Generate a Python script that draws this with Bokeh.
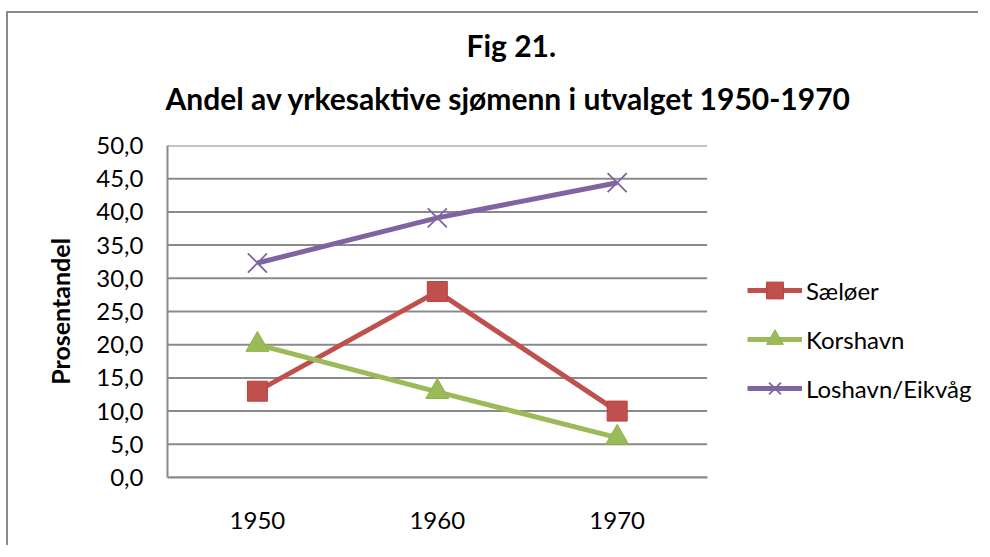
from bokeh.plotting import figure
from bokeh.models import Legend, LegendItem, Range1d, FixedTicker, Title
from bokeh.embed import file_html
from bokeh.resources import INLINE

# ---- data ----
years = [1950, 1960, 1970]
saeloer = [13.0, 28.0, 10.0]
korshavn = [20.0, 12.9, 6.0]
loshavn = [32.3, 39.1, 44.4]
series_names = ["Sæløer", "Korshavn", "Loshavn/Eikvåg"]
y_ticks = [0, 5, 10, 15, 20, 25, 30, 35, 40, 45, 50]
title_lines = ["Fig 21.", "Andel av yrkesaktive sjømenn i utvalget 1950-1970"]
y_label = "Prosentandel"

# category band: each year occupies a 10-year wide slot
X_LO, X_HI = years[0] - 5, years[-1] + 5
X_VIEW_END = 1990.2     # extra room on the right of the plot area for the legend

FONT = "Lato"
GRID = "#8a8a8a"

p = figure(
    x_range=Range1d(X_LO, X_VIEW_END),
    y_range=Range1d(0, 50),
    width=972, height=534,
    output_backend="svg", toolbar_location=None,
    min_border_left=159, min_border_right=0,
    min_border_top=132, min_border_bottom=70,
)
p.styles = {"position": "relative", "top": "11px", "left": "6px",
            "border-top": "2px solid #8a8a8a",
            "border-left": "2px solid #8a8a8a"}
p.outline_line_color = None
p.background_fill_color = "white"
p.border_fill_color = "white"

# axes
for ax in (p.xaxis[0], p.yaxis[0]):
    ax.axis_line_color = GRID
    ax.axis_line_width = 2
    ax.major_tick_out = 0
    ax.major_tick_in = 0
    ax.minor_tick_out = 0
    ax.minor_tick_in = 0
    ax.major_label_text_font = FONT
    ax.major_label_text_font_size = "24px"
    ax.major_label_text_color = "black"

p.xaxis.bounds = (X_LO, X_HI)
p.xaxis.ticker = FixedTicker(ticks=years)
p.xaxis.major_label_standoff = 34

p.yaxis.ticker = FixedTicker(ticks=y_ticks)
p.yaxis.major_label_overrides = {t: f"{t:.1f}".replace(".", ",") for t in y_ticks}
p.yaxis.major_label_standoff = 24
p.yaxis.axis_label = y_label
p.yaxis.axis_label_text_font = FONT
p.yaxis.axis_label_text_font_size = "25px"
p.yaxis.axis_label_text_font_style = "bold"
p.yaxis.axis_label_text_color = "black"
p.yaxis.axis_label_standoff = 18

# horizontal gridlines limited to the plot area
p.xgrid.visible = False
p.ygrid.visible = False
n = len(y_ticks)
p.segment(x0=[X_LO] * n, x1=[X_HI] * n, y0=y_ticks, y1=y_ticks,
          line_color=GRID, line_width=2, level="underlay")

# series
colors = ["#C0504D", "#9BBB59", "#8064A2"]
edge = ["#B8403D", "#8FB04B", "#8064A2"]
markers = ["square", "triangle", "x"]
sizes = [20, 23, 27]
values = [saeloer, korshavn, loshavn]
items = []
for name, vals, c, e, m, s in zip(series_names, values, colors, edge, markers, sizes):
    lr = p.line(years, vals, line_width=5, line_color=c)
    if m == "x":
        sr = p.scatter(years, vals, marker=m, size=s, line_color=c, line_width=1.8)
    else:
        sr = p.scatter(years, vals, marker=m, size=s, fill_color=c, line_color=e, line_width=1)
    items.append(LegendItem(label=name, renderers=[lr, sr]))

legend = Legend(
    items=items, location=(580, 68),
    glyph_width=55, glyph_height=42, label_height=42, spacing=7,
    padding=0, margin=0, border_line_color=None, background_fill_alpha=0,
    label_text_font=FONT, label_text_font_size="24px", label_standoff=4,
    label_text_color="black",
)
p.add_layout(legend)

# title (two lines): the line nearest the plot is added first
p.add_layout(Title(text=title_lines[1], align="left", offset=-2, standoff=59,
                   text_font=FONT, text_font_size="30px", text_font_style="bold",
                   text_color="black"), "above")
p.add_layout(Title(text=title_lines[0], align="left", offset=299, standoff=-29,
                   text_font=FONT, text_font_size="30px", text_font_style="bold",
                   text_color="black"), "above")

open("out.html", "w").write(file_html(p, INLINE))
